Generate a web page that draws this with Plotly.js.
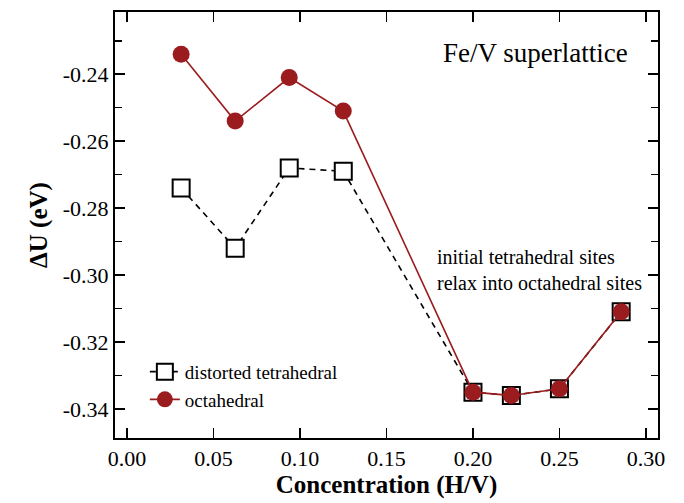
<!DOCTYPE html>
<html>
<head>
<meta charset="utf-8">
<script src="https://cdn.plot.ly/plotly-3.0.1.min.js"></script>
<style>html,body{margin:0;padding:0;background:#fff;}#chart{width:684px;height:503px;}</style>
</head>
<body>
<div id="chart"></div>
<script>
// Data
const concentration = [0.03125, 0.0625, 0.09375, 0.125, 0.2, 0.2222, 0.25, 0.2857];
const distortedTetrahedral = [-0.274, -0.292, -0.268, -0.269, -0.335, -0.336, -0.334, -0.311];
const octahedral = [-0.234, -0.254, -0.241, -0.251, -0.335, -0.336, -0.334, -0.311];
const xTicks = [0.00, 0.05, 0.10, 0.15, 0.20, 0.25, 0.30];
const xTickLabels = ['0.00', '0.05', '0.10', '0.15', '0.20', '0.25', '0.30'];
const yTicks = [-0.34, -0.32, -0.30, -0.28, -0.26, -0.24];
const yTickLabels = ['-0.34', '-0.32', '-0.30', '-0.28', '-0.26', '-0.24'];

const RED = '#9b1c1f';
const FONT = 'Times New Roman';

const traces = [
  {
    x: concentration, y: distortedTetrahedral,
    name: 'distorted tetrahedral',
    mode: 'lines+markers',
    line: {color: '#000', width: 1.6, dash: '6px,5px'},
    marker: {symbol: 'square', size: 17, color: '#fff', line: {color: '#000', width: 2}}
  },
  {
    x: concentration, y: octahedral,
    name: 'octahedral',
    mode: 'lines+markers',
    line: {color: RED, width: 1.6},
    marker: {symbol: 'circle', size: 17, color: RED, line: {width: 0}}
  }
];

function axis(extra) {
  return Object.assign({
    showline: true, linecolor: '#000', linewidth: 2, mirror: 'allticks',
    ticks: 'inside', ticklen: 10, tickwidth: 1.5, tickcolor: '#000',
    showgrid: false, zeroline: false,
    tickfont: {family: FONT, size: 22, color: '#000'}
  }, extra);
}

const layout = {
  width: 684, height: 503,
  margin: {l: 115, r: 26, t: 12, b: 65},
  paper_bgcolor: '#fff', plot_bgcolor: '#fff',
  font: {family: 'serif', color: '#000'},
  showlegend: true,
  legend: {
    x: 0.055, y: 0.20, xanchor: 'left', yanchor: 'top',
    bgcolor: 'rgba(0,0,0,0)', borderwidth: 0,
    font: {family: FONT, size: 19, color: '#000'},
    tracegroupgap: 0
  },
  xaxis: axis({
    range: [-0.007, 0.307],
    tickmode: 'array', tickvals: xTicks, ticktext: xTickLabels,
    title: {text: '<b>Concentration (H/V)</b>', font: {family: FONT, size: 25, color: '#000'}, standoff: 4}
  }),
  yaxis: axis({
    range: [-0.3487, -0.2214],
    tickmode: 'array', tickvals: yTicks, ticktext: yTickLabels,
    minor: {ticks: 'inside', ticklen: 7, tickwidth: 1.5, tickcolor: '#000', dtick: 0.01, showgrid: false},
    title: {text: '<b>ΔU (eV)</b>', font: {family: FONT, size: 25, color: '#000'}, standoff: 8}
  }),
  annotations: [
    {xref: 'paper', yref: 'paper', x: 0.775, y: 0.904, xanchor: 'center', yanchor: 'middle',
     text: 'Fe/V superlattice', showarrow: false, font: {family: FONT, size: 27, color: '#000'}},
    {xref: 'paper', yref: 'paper', x: 0.589, y: 0.394, xanchor: 'left', yanchor: 'middle', align: 'left',
     text: 'initial tetrahedral sites<br>relax into octahedral sites', showarrow: false,
     font: {family: FONT, size: 20, color: '#000'}}
  ]
};

Plotly.newPlot('chart', traces, layout, {displayModeBar: false, staticPlot: true});
</script>
</body>
</html>
